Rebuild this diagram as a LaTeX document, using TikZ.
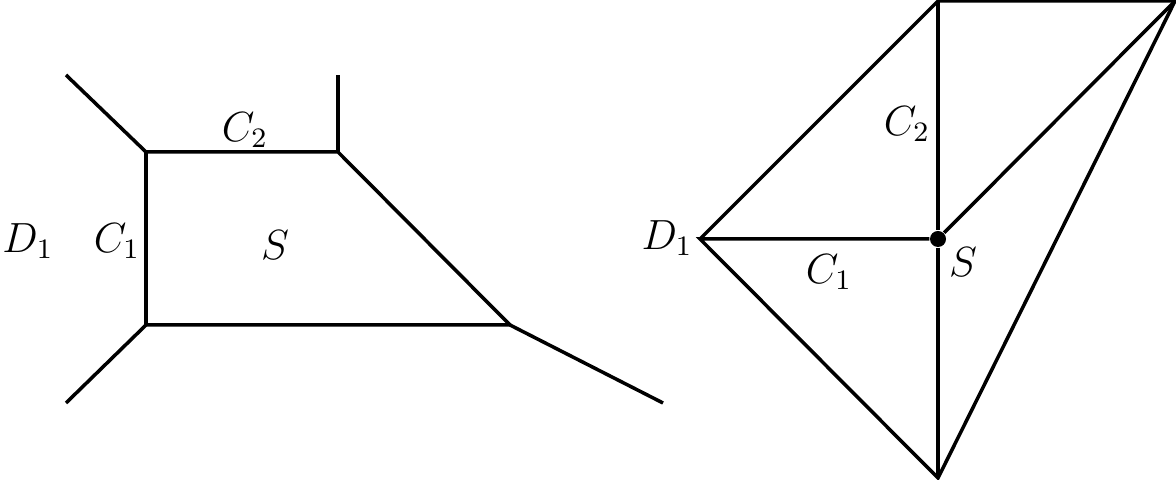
\documentclass[tikz,border=0pt]{standalone}
\usepackage{amsfonts, amssymb, amsmath}
\usetikzlibrary{calc}
\tikzset{e/.style={line width=1pt}}
\tikzset{v/.style={circle,fill=black,inner sep=0pt,minimum size=.16cm}}
\tikzset{l/.style={font=\fontsize{11.5}{11.5}\selectfont}}

\begin{document}
\begin{tikzpicture}[x=.01cm,y=-.01cm]
        \useasboundingbox (0,0) rectangle (1176,480);
        % left
        \coordinate (A) at (146,152);
        \coordinate (B) at (338,152);
        \coordinate (C) at (510,325);
        \coordinate (E) at (146,325);
        \coordinate (a) at (66,75);
        \coordinate (b) at (338,75);
        \coordinate (c) at (663,403);
        \coordinate (d) at (66,403);
        \draw [e] (A) -- (B) -- (C) -- (E) -- cycle;
        \draw [e] (A) -- (a);
        \draw [e] (B) -- (b);
        \draw [e] (C) -- (c);
        \draw [e] (E) -- (d);
        \node [l] (D1) at (28,241) {$D_1$};
        \node [l] (C1) at (117,241) {$C_1$};
        \node [l] (C2) at (245,130) {$C_2$};
        \node [l] (S) at (275,245) {$S$};
        % right
        \coordinate (P) at (700,239);
        \coordinate (T) at (938,1);
        \coordinate (Q) at (1175,1);
        \coordinate (R) at (938,478);
        \node [v] (O) at (938,239) {};
        \draw [e] (P) -- (T) -- (Q) -- (R) -- (P) -- (O);
        \draw [e] (T) -- (O) -- (R);
        \draw [e] (O) -- (Q);
        \node [l] (D1r) at (667,238) {$D_1$};
        \node [l] (C1r) at (829,272) {$C_1$};
        \node [l] (C2r) at (907,124) {$C_2$};
        \node [l] (Sr) at (963,262) {$S$};
      \end{tikzpicture}
\end{document}
